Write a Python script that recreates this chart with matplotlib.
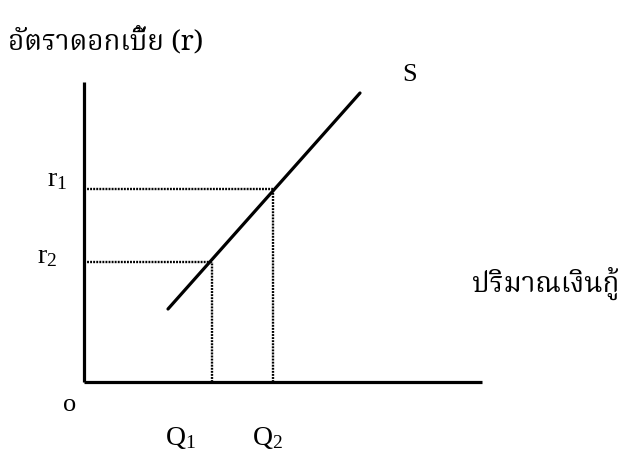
import matplotlib.pyplot as plt

plt.rcParams['mathtext.fontset'] = 'custom'
plt.rcParams['mathtext.rm'] = 'Liberation Serif'
plt.rcParams['mathtext.it'] = 'Liberation Serif'

# diagram values (units measured from the origin)
supply_q = [84, 276]
supply_r = [73, 289]
q_points = [128, 189]
r_points = [120, 193]
q_labels = [r'$\mathrm{Q}_1$', r'$\mathrm{Q}_2$']
r_labels = [r'$\mathrm{r}_1$', r'$\mathrm{r}_2$']
x_axis_end = 398
y_axis_end = 300

thai = ['Noto Serif Thai', 'Noto Sans Thai', 'Loma', 'Garuda', 'Liberation Serif', 'DejaVu Sans']
serif = 'Liberation Serif'

fig = plt.figure(figsize=(6.19, 4.53), dpi=100)
ax = fig.add_axes([0, 0, 1, 1])
ax.set_xlim(-84, 535)
ax.set_ylim(-71, 382)
ax.axis('off')

# axes
ax.plot([0, 0], [0, y_axis_end], color='black', lw=2.3, solid_capstyle='butt')
ax.plot([0, x_axis_end], [0, 0], color='black', lw=2.3, solid_capstyle='butt')

# supply curve
ax.plot(supply_q, supply_r, color='black', lw=2.3, solid_capstyle='round')

# dotted guides
for q, r in zip(q_points, sorted(r_points)):
    ax.plot([0, q], [r, r], color='black', lw=1.7, ls=(0, (0.8, 0.5)))
    ax.plot([q, q], [0, r], color='black', lw=1.7, ls=(0, (0.8, 0.5)))

# labels
ax.text(-76, 340, 'อัตราดอกเบี้ย (r)', family=thai, fontsize=20, ha='left', va='center')
ax.text(326, 307, 'S', family=serif, fontsize=19, ha='center', va='center')
ax.text(388, 99, 'ปริมาณเงินกู้', family=thai, fontsize=20, ha='left', va='center')
ax.text(-14, -23, 'o', family=serif, fontsize=19, ha='center', va='center')

r_label_x = [-27, -37]
r_label_y = [204, 127]
for lbl, lx, ly in zip(r_labels, r_label_x, r_label_y):
    ax.text(lx, ly, lbl, fontsize=20, ha='center', va='center')
q_label_x = [96, 184]
for lbl, lx in zip(q_labels, q_label_x):
    ax.text(lx, -55, lbl, fontsize=20, ha='center', va='center')

plt.savefig('out.png', dpi=100)
plt.close(fig)
